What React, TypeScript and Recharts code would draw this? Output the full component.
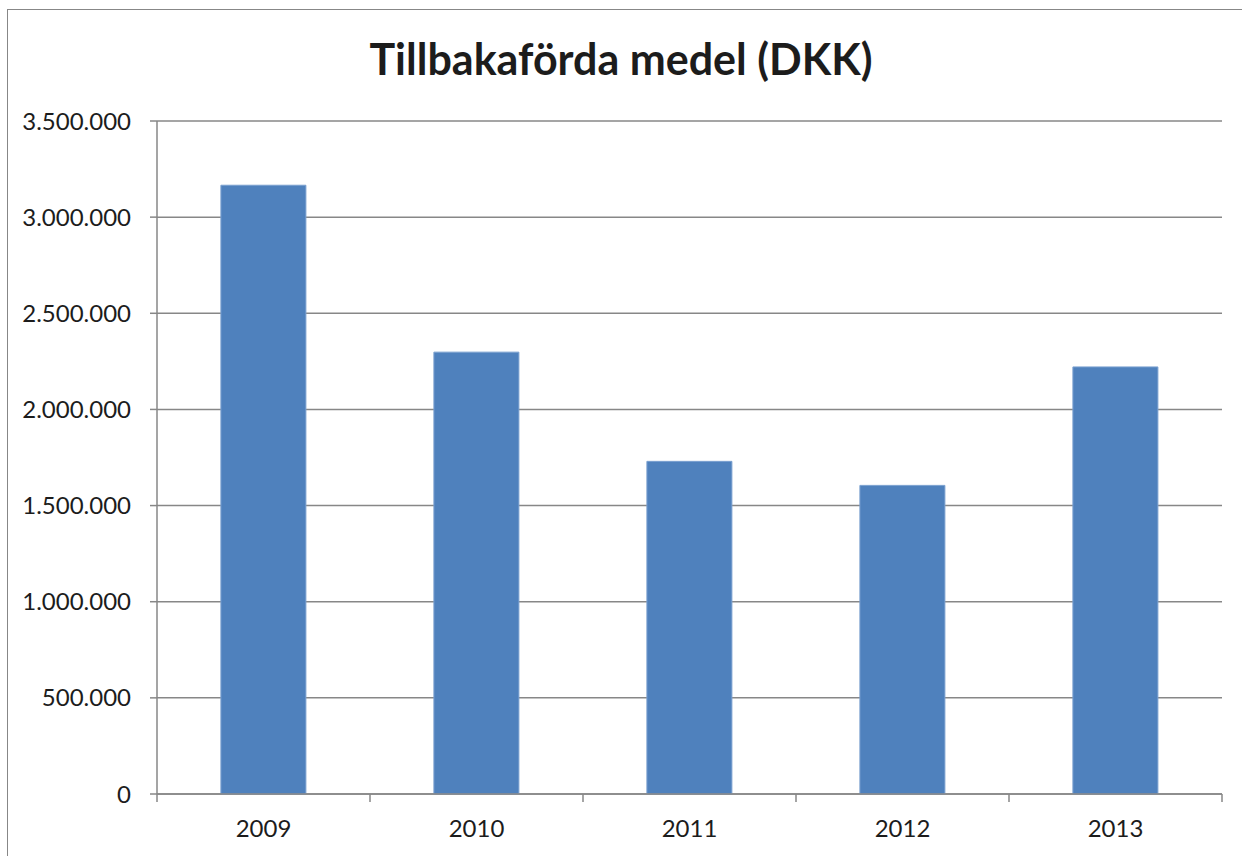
import { BarChart, Bar, XAxis, YAxis, CartesianGrid } from "recharts";

const years = ["2009", "2010", "2011", "2012", "2013"];
const amounts = [3166000, 2298000, 1730000, 1605000, 2221000];
const yTicks = [0, 500000, 1000000, 1500000, 2000000, 2500000, 3000000, 3500000];

const data = years.map((year, i) => ({ year, amount: amounts[i] }));

const fmt = (v: number) => String(v).replace(/\B(?=(\d{3})+(?!\d))/g, ".");

const gray = "#878787";
const ink = "#1c1c1c";
const font = "Lato, 'Open Sans', sans-serif";
const labelGap = 22;

// Excel style: tick marks sit between the categories, label in the middle
function YearTick(props: any) {
  const { x, y, payload, width, visibleTicksCount, index } = props;
  const half = payload && payload.offset ? payload.offset : width / visibleTicksCount / 2;
  const axisY = y - labelGap;
  const last = index === visibleTicksCount - 1;
  return (
    <g>
      <line x1={x - half} x2={x - half} y1={axisY} y2={axisY + 8} stroke={gray} strokeWidth={1.5} />
      {last && <line x1={x + half} x2={x + half} y1={axisY} y2={axisY + 8} stroke={gray} strokeWidth={1.5} />}
      <text x={x} y={y} dy={21} textAnchor="middle" fill={ink} fontSize={24} fontFamily={font}>
        {payload.value}
      </text>
    </g>
  );
}

export default function App() {
  return (
    <div
      style={{
        position: "absolute",
        left: 0,
        top: 0,
        width: 1242,
        height: 856,
        overflow: "hidden",
        background: "#fff",
        fontFamily: font,
      }}
    >
      <div
        style={{
          position: "absolute",
          left: 7,
          top: 9,
          width: 1300,
          height: 900,
          border: `1.5px solid ${gray}`,
        }}
      />
      <div
        style={{
          position: "absolute",
          left: 0,
          width: 1242,
          top: 33,
          textAlign: "center",
          fontSize: 43,
          fontWeight: 700,
          color: ink,
        }}
      >
        Tillbakaförda medel (DKK)
      </div>
      <div style={{ position: "absolute", left: 0, top: 0 }}>
        <BarChart
          width={1242}
          height={856}
          data={data}
          margin={{ top: 121, right: 20, bottom: 0, left: 0 }}
          barCategoryGap="30%"
        >
          <CartesianGrid vertical={false} stroke={gray} strokeWidth={1.5} />
          <XAxis
            dataKey="year"
            axisLine={{ stroke: gray, strokeWidth: 1.5 }}
            tickLine={false}
            tickSize={0}
            tickMargin={labelGap}
            tick={<YearTick />}
            interval={0}
            height={62}
          />
          <YAxis
            domain={[0, 3500000]}
            ticks={yTicks}
            tickFormatter={fmt}
            width={157}
            axisLine={{ stroke: gray, strokeWidth: 1.5 }}
            tickLine={{ stroke: gray, strokeWidth: 1.5 }}
            tickSize={7}
            tickMargin={19}
            tick={{ fill: ink, fontSize: 24, fontFamily: font }}
          />
          <Bar dataKey="amount" fill="#4F81BD" stroke="#7aa0d0" strokeWidth={1} isAnimationActive={false} />
        </BarChart>
      </div>
    </div>
  );
}
